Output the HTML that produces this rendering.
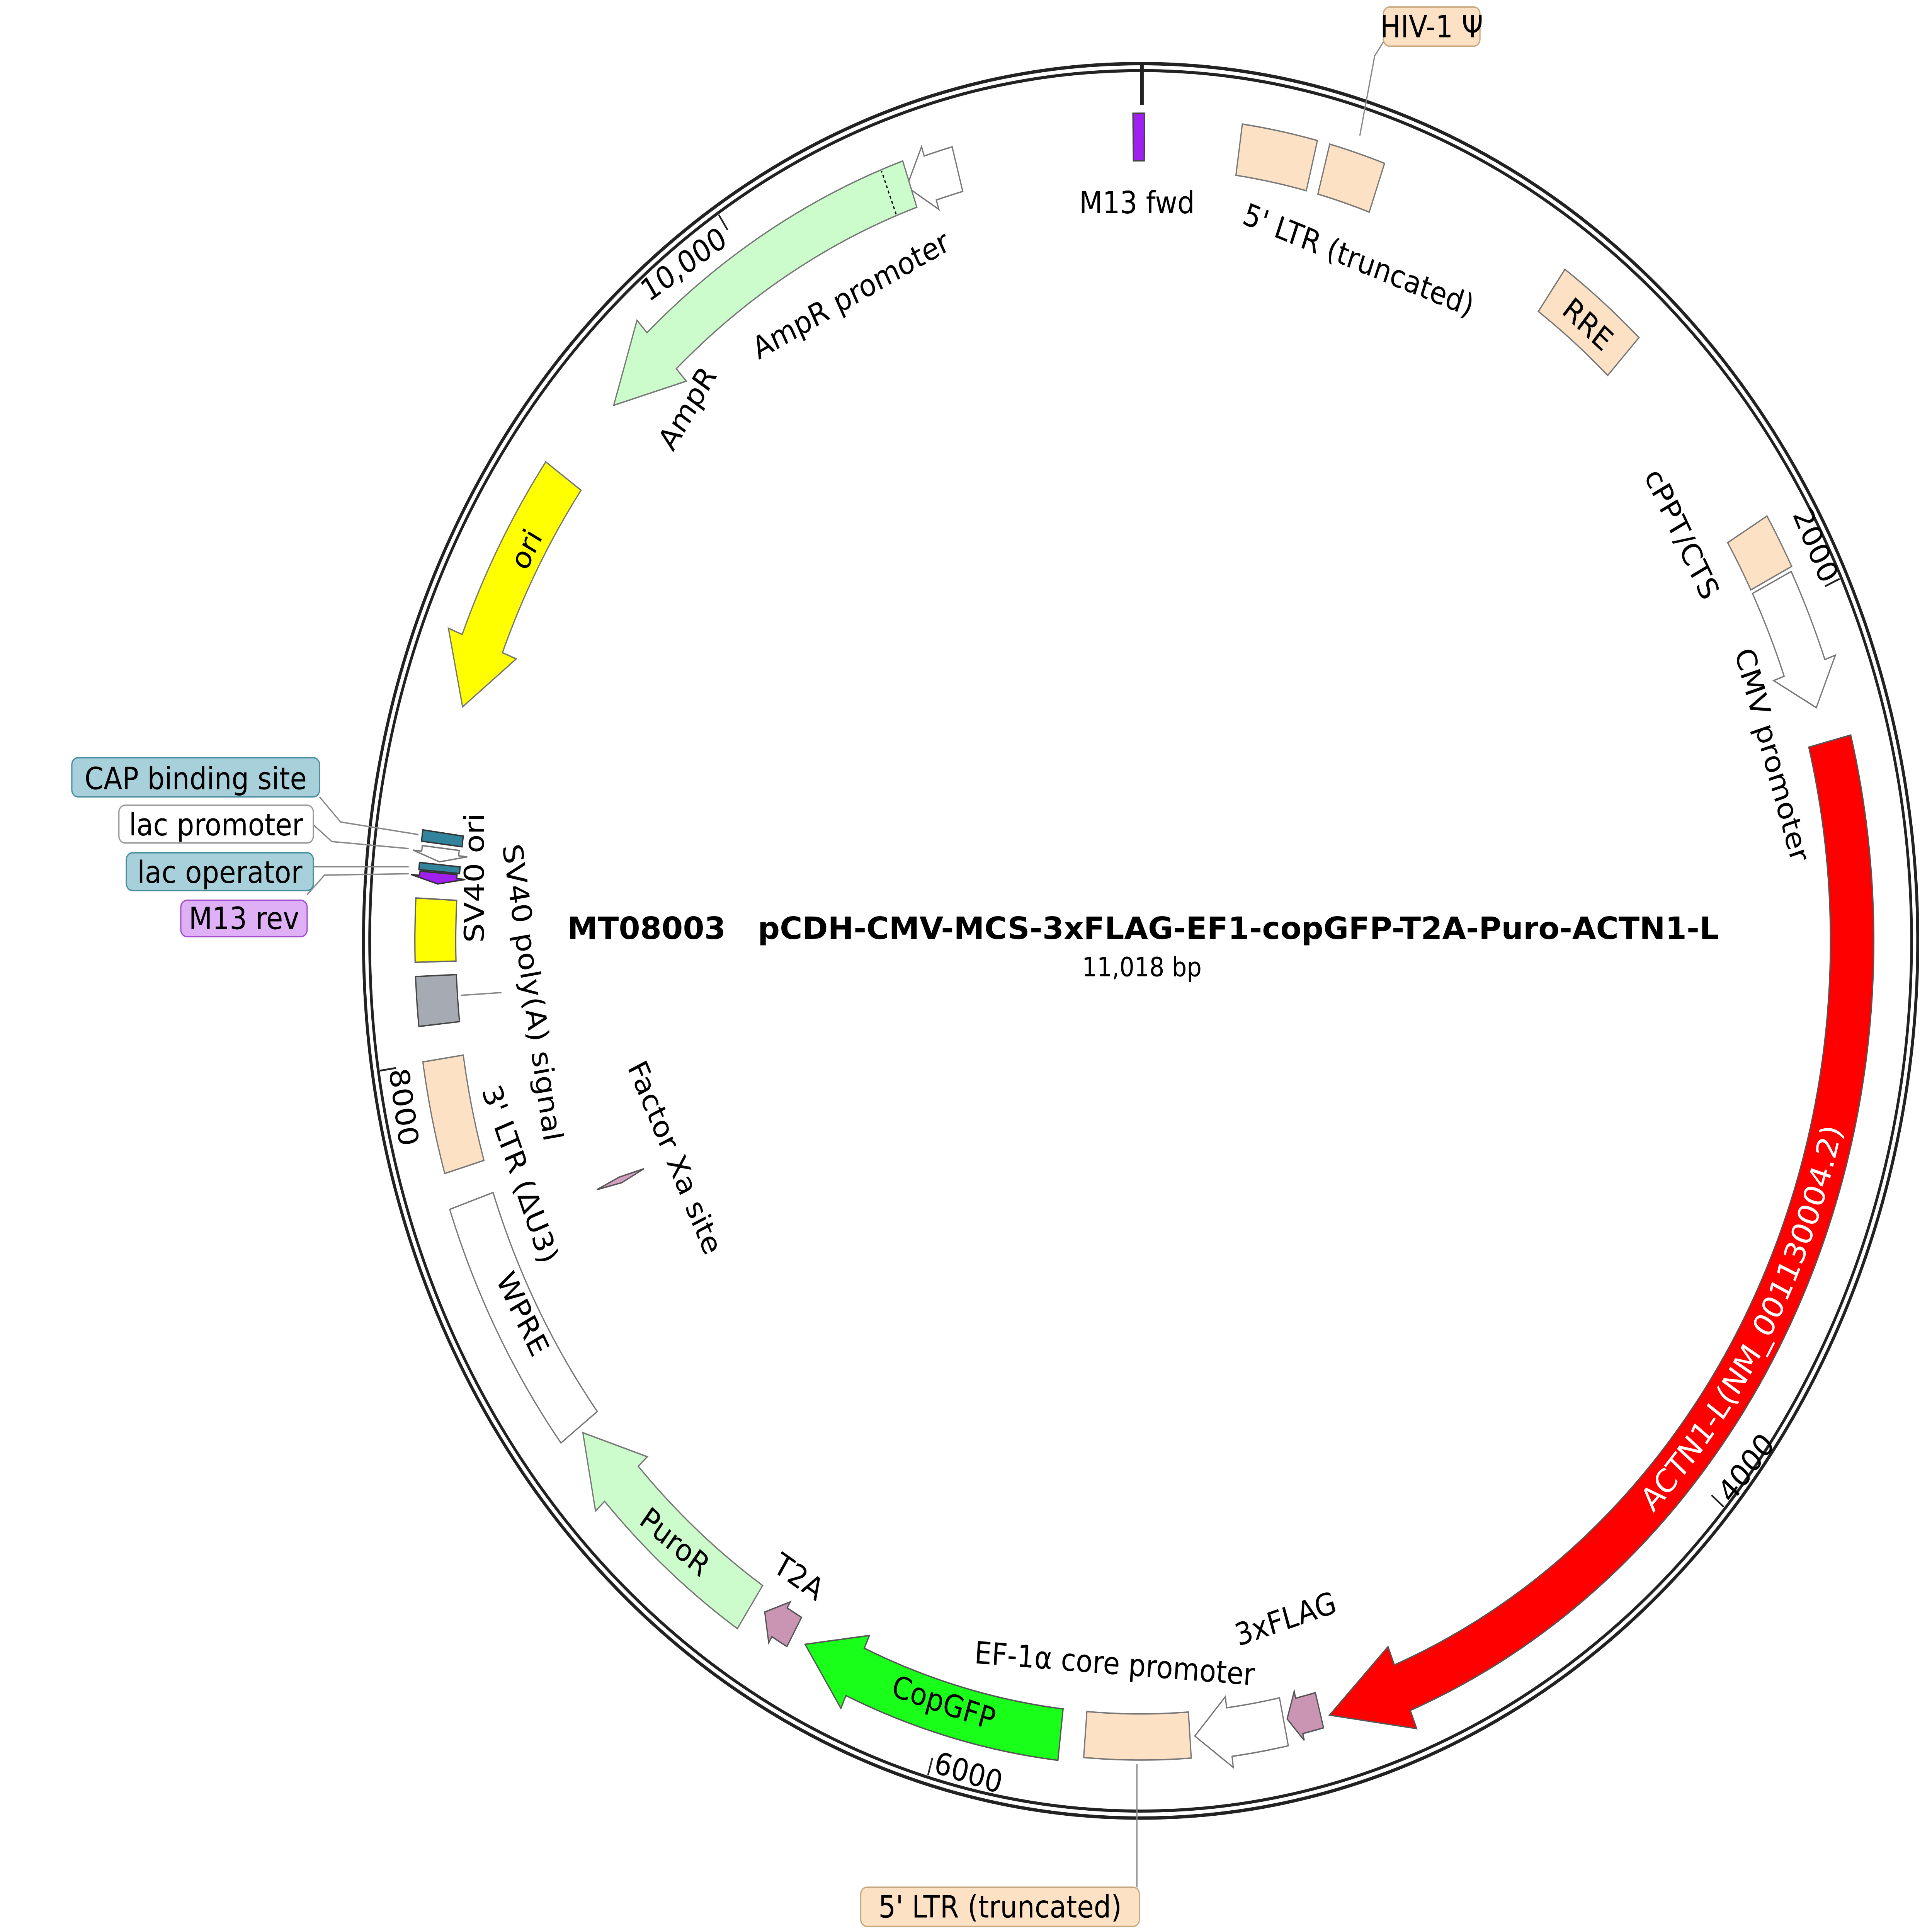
<!DOCTYPE html>
<html><head><meta charset="utf-8"><style>
html,body{margin:0;padding:0;background:#fff;width:100%;height:100%;overflow:hidden;}
svg{display:block;width:100vw;height:100vh;}
text{font-family:"DejaVu Sans","Liberation Sans",sans-serif;font-size:22px;fill:#000;}
</style></head><body>
<svg id="m" xmlns="http://www.w3.org/2000/svg" xmlns:xlink="http://www.w3.org/1999/xlink" viewBox="0 0 1560 1382" preserveAspectRatio="none">
<defs>
<path id="actnPath" d="M1071.6,1235.2 A582,582 0 0,0 1477.6,502.8" fill="none"/>
</defs>
<rect width="1560" height="1382" fill="#fff"/>
<g id="feat"></g>
<circle cx="921" cy="673" r="627.5" fill="none" stroke="#222" stroke-width="2.4"/>
<circle cx="921" cy="673" r="622.5" fill="none" stroke="#222" stroke-width="2.2"/>
<line x1="922" y1="46" x2="922" y2="75" stroke="#222" stroke-width="3"/>
<g id="ticks"></g>

<g stroke="#888" stroke-width="1" fill="none">
<polyline points="258,570 275,588 338,597"/>
<polyline points="253,590 268,602 330,607"/>
<polyline points="253,620 330,620"/>
<polyline points="248,640 262,626 330,625"/>
<polyline points="1117,30 1110,40 1098,97"/>
<line x1="918" y1="1262" x2="918" y2="1350"/>
<line x1="372" y1="712" x2="405" y2="710"/>
</g>
<rect x="58" y="542" width="200" height="28" rx="5" fill="#a8d0da" stroke="#4a8fa0"/>
<text x="158" y="557" text-anchor="middle" dominant-baseline="central">CAP binding site</text>
<rect x="96" y="576" width="157" height="27" rx="5" fill="#fff" stroke="#999"/>
<text x="174.5" y="590" text-anchor="middle" dominant-baseline="central">lac promoter</text>
<rect x="102" y="610" width="151" height="27" rx="5" fill="#a8d0da" stroke="#4a8fa0"/>
<text x="177.5" y="624" text-anchor="middle" dominant-baseline="central">lac operator</text>
<rect x="146" y="644" width="102" height="26" rx="5" fill="#dfb0f5" stroke="#a050d0"/>
<text x="197" y="657" text-anchor="middle" dominant-baseline="central">M13 rev</text>
<rect x="1117" y="5" width="78" height="28" rx="5" fill="#fde1c4" stroke="#c8a880"/>
<text x="1156" y="19" text-anchor="middle" dominant-baseline="central">HIV-1 Ψ</text>
<rect x="695" y="1350" width="225" height="28" rx="5" fill="#fde1c4" stroke="#c8a880"/>
<text x="807.5" y="1364" text-anchor="middle" dominant-baseline="central">5' LTR (truncated)</text>

<polygon points="482,851 500,842 520,836 502,846" fill="#d4a0c0" stroke="#555" stroke-width="1"/>

<text x="923" y="664" text-anchor="middle" dominant-baseline="central" font-weight="bold" textLength="930" lengthAdjust="spacingAndGlyphs" xml:space="preserve">MT08003   pCDH-CMV-MCS-3xFLAG-EF1-copGFP-T2A-Puro-ACTN1-L</text>
<text x="922" y="692" text-anchor="middle" dominant-baseline="central" style="font-size:19px">11,018 bp</text>

<g id="labels">
<text style="fill:#fff;font-size:23px"><textPath href="#actnPath" xlink:href="#actnPath" startOffset="50%" text-anchor="middle">ACTN1-L(NM_001130004.2)</textPath></text>
</g>
<g text-anchor="middle" dominant-baseline="central">
<text transform="translate(918,145)">M13 fwd</text>
<text transform="translate(1097,186) rotate(20)">5' LTR (truncated)</text>
<text transform="translate(1282,232) rotate(40)">RRE</text>
<text transform="translate(1358,382) rotate(62)">cPPT/CTS</text>
<text transform="translate(1431,540) rotate(73)">CMV promoter</text>
<text transform="translate(1038,1158) rotate(-17)">3xFLAG</text>
<text transform="translate(900,1190) rotate(4)">EF-1α core promoter</text>
<text transform="translate(762,1218) rotate(17)">CopGFP</text>
<text transform="translate(645,1128) rotate(32)">T2A</text>
<text transform="translate(545,1103) rotate(38)">PuroR</text>
<text transform="translate(422,940) rotate(62)">WPRE</text>
<text transform="translate(545,828) rotate(65)">Factor Xa site</text>
<text transform="translate(420,840) rotate(69)">3' LTR (ΔU3)</text>
<text transform="translate(430,710) rotate(81)">SV40 poly(A) signal</text>
<text transform="translate(383,628) rotate(-90)">SV40 ori</text>
<text transform="translate(555,292) rotate(-57)">AmpR</text>
<text transform="translate(687,211) rotate(-27)">AmpR promoter</text>
<text transform="translate(425,393) rotate(-62)">ori</text>
<text transform="translate(552,189) rotate(-33)">10,000</text>
<text transform="translate(1466,390) rotate(65)">2000</text>
<text transform="translate(1410,1050) rotate(-50)">4000</text>
<text transform="translate(782,1268) rotate(16)">6000</text>
<text transform="translate(326,792) rotate(81)">8000</text>
</g>

<script>
(function(){
var cx=921,cy=673,NS="http://www.w3.org/2000/svg";
function P(a,r){a=a*Math.PI/180;return (cx+r*Math.sin(a)).toFixed(2)+","+(cy-r*Math.cos(a)).toFixed(2);}
function A(a1,a2,r){var sw=a2>a1?1:0,lg=Math.abs(a2-a1)>180?1:0;return "A"+r+","+r+" 0 "+lg+","+sw+" "+P(a2,r);}
function box(a1,a2,r1,r2){return "M"+P(a1,r2)+A(a1,a2,r2)+"L"+P(a2,r1)+A(a2,a1,r1)+"Z";}
function arrow(b,t,r1,r2,hl,hw){var d=t>b?1:-1,rm=(r1+r2)/2,h=hl/rm*180/Math.PI,hb=t-d*h;
 return "M"+P(b,r2)+A(b,hb,r2)+"L"+P(hb,r2+hw)+"L"+P(t,rm)+"L"+P(hb,r1-hw)+"L"+P(hb,r1)+A(hb,b,r1)+"Z";}
var g=document.getElementById("feat");
function add(d,fill,stroke,extra){var p=document.createElementNS(NS,"path");p.setAttribute("d",d);p.setAttribute("fill",fill);p.setAttribute("stroke",stroke||"#666");p.setAttribute("stroke-width","1");if(extra)for(var k in extra)p.setAttribute(k,extra[k]);g.appendChild(p);}
var R1=553,R2=590,peach="#fde1c4",mauve="#c995b3",lg="#ccfccc";
add(arrow(75.6,164.6,557,592,62,14),"#ff0000","#555");
add(arrow(63.3,73,553,588,30,9),"#fff","#777");
add(box(59,63,R1,R2),peach,"#777");
add(box(35.5,43,R1,R2),peach,"#777");
add(box(8,14,R1,R2),peach,"#777");
add(box(15,19.5,R1,R2),peach,"#777");
add(box(-0.6,0.3,558,592),"#a020f0","#444");
add(arrow(-15,-19.3,555,588,20,7),"#fff","#777");
add(arrow(-19,-48,555,590,55,12),lg,"#777");
add("M"+P(-20.8,556)+"L"+P(-20.8,589),"none","#000",{"stroke-dasharray":"2,2"});
add(arrow(-54.5,-73,555,590,48,12),"#ffff00","#777");
add(box(-83,-82.2,552,585),"#31849b","#333");
add(arrow(-83.3,-84.3,554,584,6,7),"#fff","#777");
add(box(-85,-84.5,552,585),"#31849b","#333");
add(arrow(-85.1,-85.9,554,584,5,7),"#a020f0","#333");
add(box(-91.5,-87,553,586),"#ffff00","#666");
add(box(-96,-92.5,553,586),"#a6abb3","#444");
add(box(-106.5,-98.5,553,586),peach,"#777");
add(box(-127.5,-109,553,590),"#fff","#777");
add(arrow(213.5,232,553,590,48,10),lg,"#777");
add(arrow(209.5,212.3,556,580,14,5),mauve,"#555");
add(arrow(186.5,208.3,553,590,45,10),"#1aff1a","#555");
add(box(176,184.5,553,586),peach,"#777");
add(arrow(168.3,175.6,553,588,28,8),"#fff","#777");
add(arrow(165.3,168,556,582,10,5),mauve,"#555");
var t=document.getElementById("ticks");
[65.35,130.7,196.05,261.4,326.74].forEach(function(a){var l=document.createElementNS(NS,"path");l.setAttribute("d","M"+P(a,621)+"L"+P(a,608));l.setAttribute("stroke","#222");l.setAttribute("stroke-width","1.3");t.appendChild(l);});
})();
</script>
</svg>
</body></html>
